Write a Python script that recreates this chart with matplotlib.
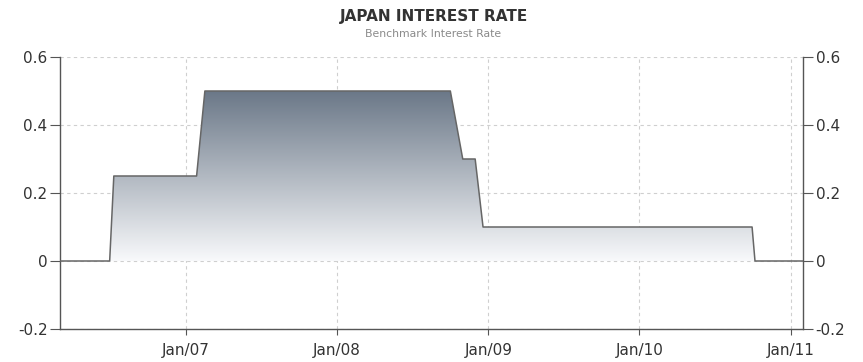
import matplotlib
matplotlib.use("Agg")
import matplotlib.pyplot as plt
import matplotlib.dates as mdates
import numpy as np
from datetime import datetime
from matplotlib.patches import Polygon

dates = ["2006-03-01", "2006-07-01", "2006-07-11", "2007-01-27", "2007-02-16",
         "2008-10-01", "2008-10-31", "2008-11-30", "2008-12-19",
         "2010-09-30", "2010-10-07", "2011-01-31"]
rates = [0.0, 0.0, 0.25, 0.25, 0.5, 0.5, 0.3, 0.3, 0.1, 0.1, 0.0, 0.0]
yticks = [-0.2, 0, 0.2, 0.4, 0.6]
ytick_labels = ["-0.2", "0", "0.2", "0.4", "0.6"]
xtick_dates = ["2007-01-01", "2008-01-01", "2009-01-01", "2010-01-01", "2011-01-01"]
xtick_labels = ["Jan/07", "Jan/08", "Jan/09", "Jan/10", "Jan/11"]

plt.rcParams['font.family'] = ['DejaVu Sans']
fig = plt.figure(figsize=(8.63, 3.62), dpi=100)
ax = fig.add_axes([60/863, 1-329/362, 743/863, 272/362])

x = mdates.date2num([datetime.fromisoformat(d) for d in dates])
y = np.array(rates)
xmin = mdates.date2num(datetime(2006, 3, 3))
xmax = mdates.date2num(datetime(2011, 1, 31))

# gradient fill
verts = [(x[0], 0)] + list(zip(x, y)) + [(x[-1], 0)]
poly = Polygon(verts, closed=True, facecolor='none', edgecolor='none')
ax.add_patch(poly)
top = np.array([0x6b, 0x78, 0x88]) / 255
bot = np.array([0xf8, 0xf9, 0xfb]) / 255
n = 256
t = np.linspace(0, 1, n)[:, None]
grad = (top * t + bot * (1 - t))  # row 0 = bottom
img = np.repeat(grad[:, None, :], 2, axis=1)
im = ax.imshow(img, extent=[x[0], x[-1], 0, 0.5], origin='lower', aspect='auto',
               zorder=1, interpolation='bilinear')
im.set_clip_path(poly)

ax.plot(x, y, color='#666666', lw=1.1, zorder=3)

ax.set_xlim(xmin, xmax)
ax.set_ylim(-0.2, 0.6)
ax.set_yticks(yticks)
ax.set_yticklabels(ytick_labels)
xt = mdates.date2num([datetime.fromisoformat(d) for d in xtick_dates])
ax.set_xticks(xt)
ax.set_xticklabels(xtick_labels)

ax.grid(True, color='#cfcfcf', linestyle=(0, (3, 3)), lw=0.8, zorder=0)
ax.set_axisbelow(True)
for s in ['left', 'right', 'bottom']:
    ax.spines[s].set_color('#555555')
    ax.spines[s].set_linewidth(1.0)
ax.spines['top'].set_visible(False)
ax.tick_params(axis='y', which='both', left=True, right=True, labelleft=True,
               labelright=True, length=7, color='#555555', labelsize=11,
               labelcolor='#333333', direction='out', pad=2)
ax.tick_params(axis='x', length=4, color='#555555', labelsize=11,
               labelcolor='#333333', direction='out', pad=6)

fig.text(434/863, 1-17/362, "JAPAN INTEREST RATE", ha='center', va='center',
         fontsize=11, fontweight='bold', color='#333333',
         family=['Liberation Sans Narrow', 'DejaVu Sans'])
fig.text(433/863, 1-34/362, "Benchmark Interest Rate", ha='center', va='center',
         fontsize=7.8, color='#8a8a8a')

fig.savefig("out.png", dpi=100)
